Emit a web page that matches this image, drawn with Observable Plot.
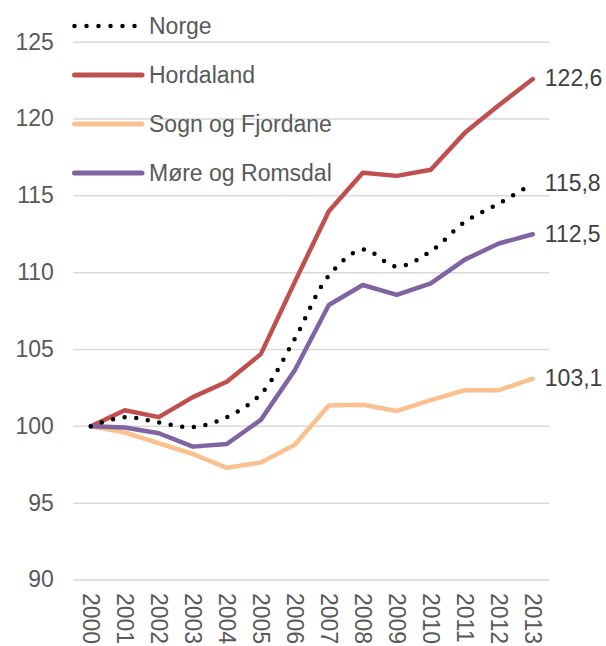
<!DOCTYPE html>
<html>
<head>
<meta charset="utf-8">
<script src="https://cdn.jsdelivr.net/npm/d3@7"></script>
<script src="https://cdn.jsdelivr.net/npm/@observablehq/plot@0.6"></script>
<style>
  html, body { margin: 0; padding: 0; background: #fff; }
  #wrap { position: relative; width: 606px; height: 646px; font-family: "Liberation Sans", Arial, sans-serif; }
  #legend { position: absolute; left: 0; top: 0; }
  .row { position: absolute; left: 72px; height: 30px; display: flex; align-items: center; }
  .row svg { display: block; }
  .row span { position: absolute; left: 77px; white-space: nowrap; font-size: 23px; color: #595959; line-height: 30px; }
</style>
</head>
<body>
<div id="wrap"><div id="chart"></div><div id="legend"></div></div>
<script>
const years = ["2000","2001","2002","2003","2004","2005","2006","2007","2008","2009","2010","2011","2012","2013"];
const seriesNames = ["Norge", "Hordaland", "Sogn og Fjordane", "Møre og Romsdal"];
const norge = [100, 100.6, 100.25, 99.95, 100.6, 102.1, 105.7, 109.8, 111.5, 110.4, 111.4, 113.3, 114.5, 115.8];
const hordaland = [100, 101.05, 100.6, 101.9, 102.9, 104.7, 109.4, 114.0, 116.5, 116.3, 116.7, 119.1, 120.9, 122.6];
const sogn = [100, 99.6, 98.9, 98.2, 97.3, 97.65, 98.8, 101.35, 101.4, 101.0, 101.7, 102.35, 102.35, 103.1];
const more = [100, 99.92, 99.55, 98.68, 98.85, 100.42, 103.65, 107.9, 109.2, 108.55, 109.3, 110.85, 111.9, 112.5];
const colors = ["#000000", "#C0504D", "#FAC090", "#8064A2"];
const yTicks = [90, 95, 100, 105, 110, 115, 120, 125];

const yearNums = years.map(Number);
const valuesByName = {"Norge": norge, "Hordaland": hordaland, "Sogn og Fjordane": sogn, "Møre og Romsdal": more};
const rows = [];
for (const name of seriesNames) valuesByName[name].forEach((v, i) => rows.push({series: name, year: yearNums[i], value: v}));
const colorOf = Object.fromEntries(seriesNames.map((n, i) => [n, colors[i]]));
const fmt = v => d3.format(".1f")(v).replace(".", ",");
const lastYear = yearNums[yearNums.length - 1];
const last = rows.filter(d => d.year === lastYear);

const drawOrder = ["Sogn og Fjordane", "Hordaland", "Møre og Romsdal"];

const chart = Plot.plot({
  width: 606,
  height: 646,
  marginLeft: 73.3,
  marginRight: 56.7,
  marginTop: 41.7,
  marginBottom: 66.5,
  style: {fontFamily: '"Liberation Sans", Arial, sans-serif', fontSize: "23px", color: "#595959", background: "transparent", overflow: "visible"},
  x: {type: "linear", domain: [yearNums[0] - 0.5, lastYear + 0.5]},
  y: {domain: [90, 125]},
  marks: [
    Plot.gridY(yTicks, {stroke: "#d9d9d9", strokeOpacity: 1, strokeWidth: 1.5}),
    Plot.axisY(yTicks, {tickSize: 0, tickPadding: 20, fontSize: 23, label: null}),
    Plot.axisX(yearNums, {tickSize: 0, tickPadding: 13, tickRotate: 90, fontSize: 23, label: null, tickFormat: d => String(d)}),
    ...drawOrder.map(name => Plot.line(rows.filter(d => d.series === name), {
      x: "year", y: "value", stroke: colorOf[name], strokeWidth: 4.5, strokeLinejoin: "round", strokeLinecap: "round"
    })),
    Plot.line(rows.filter(d => d.series === "Norge"), {
      x: "year", y: "value", stroke: "#000", strokeWidth: 4.5, strokeDasharray: "0 11.7", strokeLinecap: "round", curve: "catmull-rom"
    }),
    Plot.text(last, {x: "year", y: "value", text: d => fmt(d.value), dx: 12, textAnchor: "start", fontSize: 23, fill: "#404040"})
  ]
});
document.getElementById("chart").appendChild(chart);

const legend = document.getElementById("legend");
const legendTops = [26, 75, 124, 173];
seriesNames.forEach((name, i) => {
  const row = document.createElement("div");
  row.className = "row";
  row.style.top = (legendTops[i] - 15) + "px";
  const dash = name === "Norge" ? 'stroke-dasharray="0 12"' : "";
  row.innerHTML = `<svg width="75" height="30"><line x1="2.5" y1="15" x2="${name === "Norge" ? 66 : 70}" y2="15" stroke="${colorOf[name]}" stroke-width="${name === "Norge" ? 4.5 : 5}" stroke-linecap="round" ${dash}/></svg><span>${name}</span>`;
  legend.appendChild(row);
});
</script>
</body>
</html>
